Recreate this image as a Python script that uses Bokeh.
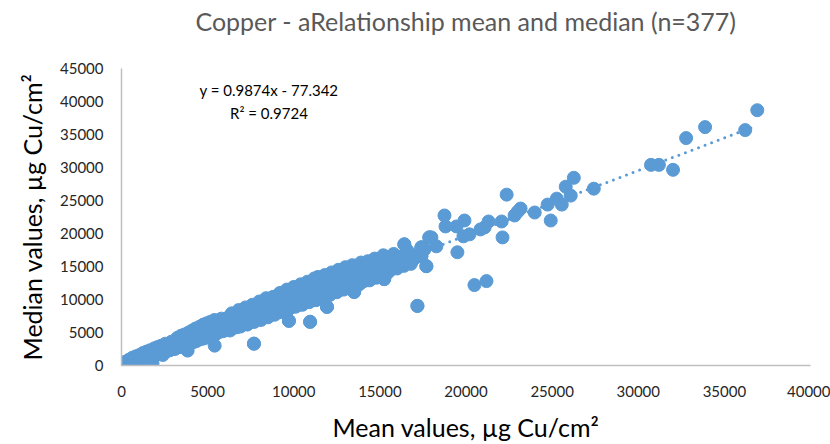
from bokeh.plotting import figure
from bokeh.models import Range1d, Label, NumeralTickFormatter, LinearAxis
from bokeh.embed import file_html
from bokeh.resources import INLINE

TITLE = "Copper - aRelationship mean and median (n=377)"
X_LABEL = "Mean values, µg Cu/cm²"
Y_LABEL = "Median values, µg Cu/cm²"
EQ_TEXT = "y = 0.9874x - 77.342"
R2_TEXT = "R² = 0.9724"
SLOPE = 0.9874
INTERCEPT = -77.342

mean_low = [50, 80, 120, 150, 200, 250, 300, 350, 400, 450, 500, 550, 600, 650, 700, 750, 800, 850, 900, 950,
            1000, 1050, 1100, 1150, 1200, 1250, 1300, 1350, 1400, 1450, 1500, 1550, 1600, 1650, 1700, 1750, 1800,
            1850, 1900, 1950, 2000, 2050, 2100, 2150, 2200, 2250, 2300, 2350, 2400, 2450, 2500, 2550, 2600, 2700,
            2800, 2900, 3000]
median_low = [40, 300, 60, 450, 0, 600, 100, 650, 250, 900, 300, 850, 350, 1200, 400, 1100, 500, 1400, 600, 1300,
              700, 1600, 800, 1500, 850, 1900, 950, 1700, 1000, 2100, 1100, 1950, 1200, 2300, 1250, 2150, 300,
              1450, 2600, 1500, 2400, 1650, 2800, 1700, 2600, 1800, 3000, 1900, 1600, 2850, 2050, 3300, 2150, 3100,
              2300, 3600, 2500]

mean_mid1 = [3050, 3100, 3150, 3200, 3250, 3300, 3350, 3400, 3450, 3500, 3550, 3600, 3650, 3700, 3750, 3800, 3840,
             3900, 3950, 4000, 4050, 4100, 4150, 4200, 4250, 4300, 4350, 4400, 4450, 4500, 4550, 4600, 4650, 4700,
             4750, 4800, 4850, 4900, 4950, 5000, 5050, 5100, 5150, 5200, 5250, 5300, 5410, 5400, 5500, 5600, 5700,
             5800, 5900, 6000]
median_mid1 = [3700, 2500, 3800, 2700, 4200, 2900, 3800, 2800, 4500, 3000, 4200, 3200, 4700, 3200, 4400, 3300, 2260,
               5000, 3400, 4700, 3600, 5300, 3500, 5000, 3800, 5600, 3700, 5200, 4000, 4100, 5900, 4000, 5500, 4200,
               6200, 4100, 5700, 4400, 6400, 4300, 6000, 4600, 6600, 4500, 6100, 4800, 3010, 6900, 4800, 6500, 5100,
               7100, 5200, 6700]

mean_mid2 = [6100, 6200, 6300, 6400, 6500, 6600, 6700, 6800, 6900, 6930, 7000, 7100, 7200, 7300, 7400, 7500, 7600,
             7690, 7700, 7800, 7900, 8000, 8100, 8200, 8300, 8400, 8500, 8600, 8700, 8800, 8900, 9000, 9100, 9200,
             9300, 9400, 9500, 9600, 9720, 9700, 9800, 9900, 10000, 10100]
median_mid2 = [5400, 7300, 5300, 7900, 5700, 7600, 5800, 8400, 5900, 7520, 8000, 6300, 8800, 6200, 8200, 6600, 9200,
               3310, 6600, 8800, 7000, 9700, 6900, 9300, 7300, 10200, 7300, 9700, 7700, 10400, 7700, 10100, 8100, 11000,
               8100, 10500, 8500, 11500, 6770, 8500, 10900, 8900, 11900, 8900]
median_mid2_core = [5800, 6700, 6000, 7000, 6200, 7200, 6400, 7500, 6600, 7520, 7700, 6800, 7900, 7000, 7600, 7200,
                    8300, 3310, 7400, 8500, 7600, 8700, 7800, 9000, 8000, 9200, 8200, 9400, 8400, 9100, 8600, 9700,
                    8800, 9900, 9000, 10200, 9200, 10400, 6770, 9400, 10600, 9600, 10800, 9700]

mean_mid3 = [10200, 10300, 10400, 10500, 10600, 10700, 10800, 10950, 10900, 11000, 11100, 11200, 11300, 11410, 11500,
             11600, 11700, 11800, 11930, 11900, 12000, 12100, 12200, 12300, 12400, 12500, 12600, 12700, 12800, 12900,
             13000, 13100, 13200, 13300, 13400, 13510, 13600, 13700, 13800, 13900, 14000]
median_mid3 = [11600, 9200, 12300, 9200, 11900, 9600, 12700, 6620, 9600, 12300, 9900, 13200, 9900, 13390, 10300,
               12800, 10300, 13700, 8880, 10700, 13200, 10700, 14100, 11100, 13600, 11100, 14500, 11500, 13900, 11500,
               14900, 11900, 14000, 11900, 15200, 11140, 12300, 14600, 12300, 15600, 12700]
median_mid3_core = [11000, 9900, 11200, 10100, 11400, 10300, 11000, 6620, 10500, 11800, 10600, 12000, 10800, 13390,
                    11000, 12300, 11200, 12500, 8880, 11400, 12700, 11600, 12900, 11800, 13100, 12000, 13300, 12200,
                    13500, 12400, 13700, 12600, 13300, 12800, 14000, 11140, 13000, 14200, 13200, 14400, 13400]

mean_mid4 = [14100, 14200, 14300, 14400, 14500, 14600, 14700, 14800, 14900, 15080, 15000, 15250, 15200, 15400, 15500,
             15600, 15800, 16000, 16240, 16420, 16200, 16400, 16600, 16800, 17000, 17180, 17410, 17410, 17580, 17700,
             17870]
median_mid4 = [15000, 12900, 15800, 12900, 15100, 13300, 16200, 13300, 15600, 16100, 13700, 13090, 16700, 13900, 16000,
               14400, 16900, 14700, 15350, 18360, 16500, 15100, 17400, 15400, 16700, 9030, 17910, 16560, 17610, 15050,
               19410]
median_mid4_core = [14600, 13600, 14800, 13800, 14600, 14000, 15000, 14200, 15200, 16100, 14400, 13090, 15400, 14800,
                    15600, 15000, 15800, 15400, 15350, 18360, 16200, 15800, 16400, 16600, 16200, 9030, 17910, 16560,
                    17610, 15050, 19410]

mean_high = [17990, 18280, 18750, 18810, 19450, 19500, 19850, 19910, 20200, 20490, 20840, 21080, 21190, 21310, 22070,
             22120, 22360, 22820, 23000, 23170, 23990, 24740, 24920, 25270, 25560, 25790, 26080, 26260, 27420, 30740,
             31200, 32020, 32780, 33880, 36210, 36910]
median_high = [19410, 18060, 22730, 21070, 21070, 17160, 19570, 21970, 19870, 12190, 20620, 20920, 12790, 21820, 21820,
               19410, 25890, 22730, 23300, 23780, 23180, 24380, 21970, 25280, 24380, 27090, 25740, 28440, 26790, 30400,
               30400, 29650, 34460, 36120, 35670, 38680]

mean_vals = (mean_low + mean_mid1 + mean_mid2 + mean_mid3 + mean_mid4 + mean_high
             + mean_mid2 + mean_mid3 + mean_mid4)
median_vals = (median_low + median_mid1 + median_mid2 + median_mid3 + median_mid4 + median_high
               + median_mid2_core + median_mid3_core + median_mid4_core)

x_ticks = [0, 5000, 10000, 15000, 20000, 25000, 30000, 35000, 40000]
y_ticks = [0, 5000, 10000, 15000, 20000, 25000, 30000, 35000, 40000, 45000]

BLUE = "#5B9BD5"
FONT = "Lato"

p = figure(width=830, height=444, output_backend="svg", toolbar_location=None,
           x_range=Range1d(0, 40000), y_range=Range1d(0, 45000),
           min_border_left=121, min_border_right=20, min_border_top=68, min_border_bottom=77)
p.outline_line_color = None
p.grid.grid_line_color = None
p.background_fill_color = "white"
p.border_fill_color = "white"

for ax, ticks in ((p.xaxis[0], x_ticks), (p.yaxis[0], y_ticks)):
    ax.ticker = ticks
    ax.formatter = NumeralTickFormatter(format="0")
    ax.axis_line_color = "#BFBFBF"
    ax.axis_line_width = 1.5
    ax.major_tick_line_color = None
    ax.minor_tick_line_color = None
    ax.major_label_text_font = FONT
    ax.major_label_text_font_size = "15px"
    ax.major_label_text_color = "#262626"
    ax.axis_label_text_font = FONT
    ax.axis_label_text_font_size = "25px"
    ax.axis_label_text_font_style = "normal"
    ax.axis_label_text_color = "#000000"

p.xaxis[0].axis_label = X_LABEL
p.yaxis[0].axis_label = Y_LABEL
p.xaxis[0].major_label_standoff = 14
p.xaxis[0].axis_label_standoff = 12
p.yaxis[0].major_label_standoff = 12
p.yaxis[0].axis_label_standoff = 10

# title drawn as the label of an empty axis above the frame
title_axis = LinearAxis(ticker=[], axis_label=TITLE, axis_line_color=None,
                        major_tick_line_color=None, minor_tick_line_color=None,
                        major_label_text_font_size="0px", major_label_standoff=0,
                        axis_label_standoff=33, axis_label_text_font=FONT,
                        axis_label_text_font_size="25px", axis_label_text_font_style="normal",
                        axis_label_text_color="#595959")
p.add_layout(title_axis, "above")

p.scatter(mean_vals, median_vals, size=13, fill_color=BLUE, line_color=BLUE, line_width=1)

x0, x1 = min(mean_vals), max(mean_vals)
p.line([x0, x1], [SLOPE * x0 + INTERCEPT, SLOPE * x1 + INTERCEPT], line_color=BLUE, line_width=3,
       line_dash="0 7", line_cap="round")

p.add_layout(Label(x=8560, y=41690, text=EQ_TEXT, text_align="center", text_baseline="middle",
                   text_font=FONT, text_font_size="15px", text_color="#000000"))
p.add_layout(Label(x=8560, y=38230, text=R2_TEXT, text_align="center", text_baseline="middle",
                   text_font=FONT, text_font_size="15px", text_color="#000000"))

open("out.html", "w").write(file_html(p, INLINE))
